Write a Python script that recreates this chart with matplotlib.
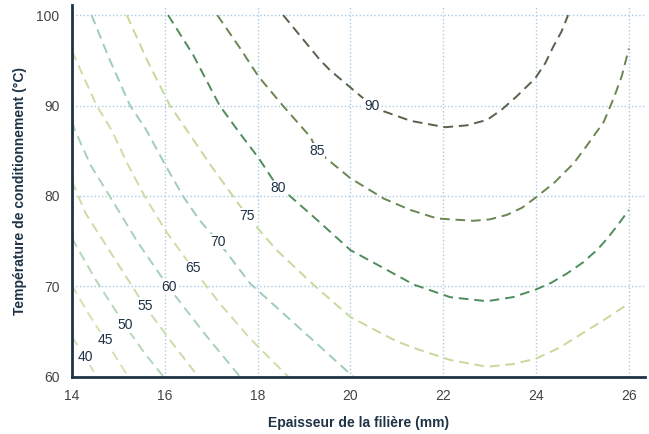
import matplotlib.pyplot as plt

plt.rcParams['font.family'] = ['Liberation Sans', 'DejaVu Sans']

levels = [40, 45, 50, 55, 60, 65, 70, 75, 80, 85, 90]

# contour lines (x = thickness, y = temperature)
x40 = [14.0, 14.28, 14.53]
y40 = [64.4, 62.2, 60.0]
x45 = [14.0, 14.35, 14.71, 15.21]
y45 = [70.1, 67.0, 64.1, 60.0]
x50 = [14.0, 14.5, 15.14, 15.55, 15.97]
y50 = [75.3, 70.8, 65.7, 62.7, 60.0]
x55 = [14.0, 14.3, 14.7, 15.57, 16.15, 16.72]
y55 = [81.6, 78.0, 74.8, 67.8, 63.8, 60.0]
x60 = [14.0, 14.06, 14.4, 14.82, 15.4, 16.08, 16.85, 17.62]
y60 = [88.2, 87.3, 83.4, 79.9, 75.0, 69.9, 64.8, 60.0]
x65 = [14.0, 14.53, 14.85, 15.2, 15.57, 16.05, 16.6, 17.2, 17.84, 18.66]
y65 = [96.0, 90.0, 87.3, 83.5, 79.9, 75.9, 72.0, 68.0, 64.2, 60.0]
x70 = [14.42, 14.8, 15.25, 15.6, 16.0, 16.4, 16.75, 17.15, 17.84, 18.92, 20.06]
y70 = [100.0, 95.2, 90.0, 87.3, 83.5, 79.9, 77.3, 74.95, 70.3, 65.3, 60.0]
x75 = [15.18, 15.6, 16.11, 16.47, 17.0, 17.48, 17.77, 18.41, 19.24, 20.0, 21.0, 21.5,
       22.15, 22.94, 23.5, 24.0, 24.5, 25.0, 25.5, 26.0]
y75 = [100.0, 95.2, 90.0, 87.3, 83.3, 79.9, 77.8, 74.0, 70.0, 66.6, 63.9, 62.95,
       61.85, 61.1, 61.4, 62.0, 63.2, 64.8, 66.4, 68.1]
x80 = [16.07, 16.61, 17.18, 17.62, 18.02, 18.45, 18.67, 19.28, 20.0, 20.72, 21.36,
       22.15, 22.94, 23.5, 24.0, 24.33, 24.66, 25.0, 25.31, 25.52, 25.75, 26.0]
y80 = [100.0, 95.6, 90.0, 86.9, 84.2, 80.85, 80.1, 77.35, 74.0, 72.0, 70.2,
       68.8, 68.35, 68.8, 69.65, 70.4, 71.4, 72.6, 74.0, 75.2, 76.7, 78.45]
x85 = [17.13, 17.6, 18.02, 18.54, 19.14, 19.28, 20.0, 20.72, 21.29, 21.87, 22.65,
       23.0, 23.37, 23.7, 24.0, 24.4, 24.81, 25.1, 25.46, 25.68, 25.85, 26.0]
y85 = [100.0, 96.5, 93.2, 90.0, 86.5, 85.0, 81.95, 79.7, 78.45, 77.5, 77.25,
       77.4, 77.9, 78.7, 79.85, 81.5, 83.6, 85.6, 88.2, 90.9, 93.3, 96.3]
x90 = [18.55, 19.35, 19.56, 20.46, 20.64, 21.3, 22.04, 22.5, 22.94, 23.25, 23.58,
       23.98, 24.2, 24.37, 24.55, 24.69]
y90 = [100.0, 95.0, 93.9, 90.0, 89.5, 88.3, 87.6, 87.8, 88.4, 89.5, 91.0,
       93.0, 94.7, 96.5, 98.2, 100.0]

label_x = [14.28, 14.71, 15.14, 15.57, 16.08, 16.6, 17.15, 17.77, 18.45, 19.28, 20.46]
label_y = [62.2, 64.1, 65.7, 67.8, 69.9, 72.0, 74.95, 77.8, 80.85, 85.0, 90.0]

line_x = [x40, x45, x50, x55, x60, x65, x70, x75, x80, x85, x90]
line_y = [y40, y45, y50, y55, y60, y65, y70, y75, y80, y85, y90]
colors = ['#cfdfb9', '#d6e2b0', '#b5d6b8', '#cadcaa', '#a9d0b8', '#d0dca6',
          '#9fcbbb', '#c6d99a', '#4f8c5c', '#6a8650', '#56624a']

navy = '#1f3347'

fig = plt.figure(figsize=(6.49, 4.34), dpi=100)
ax = fig.add_axes([0.111, 0.132, 0.883, 0.8565])

for xs, ys, c in zip(line_x, line_y, colors):
    ax.plot(xs, ys, color=c, lw=1.4, ls=(0, (5, 3)), zorder=2)

for lx, ly, lev in zip(label_x, label_y, levels):
    ax.text(lx, ly, str(lev), ha='center', va='center', fontsize=10, color=navy,
            bbox=dict(facecolor='white', edgecolor='none', pad=0.5), zorder=3)

ax.set_xlim(14, 26.35)
ax.set_ylim(60, 101.12)
ax.set_xticks([14, 16, 18, 20, 22, 24, 26])
ax.set_yticks([60, 70, 80, 90, 100])
ax.grid(True, color='#a9cbe3', ls=':', lw=1, zorder=1)
ax.tick_params(length=0, labelsize=10, labelcolor='#444444', pad=9)

for s in ['top', 'right']:
    ax.spines[s].set_visible(False)
for s in ['left', 'bottom']:
    ax.spines[s].set_color(navy)
    ax.spines[s].set_linewidth(2)

ax.set_xlabel('Epaisseur de la filière (mm)', fontsize=10, fontweight='bold',
              color=navy, labelpad=9)
ax.set_ylabel('Température de conditionnement (°C)', fontsize=10, fontweight='bold',
              color=navy, labelpad=7)

fig.savefig('out.png', dpi=100)
